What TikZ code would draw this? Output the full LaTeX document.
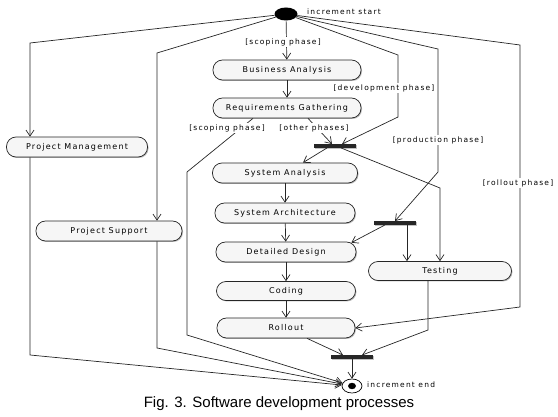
\documentclass[tikz,border=0pt]{standalone}
\usepackage{fontspec}
\setmainfont{DejaVu Sans}
\newfontfamily\capfont{Liberation Sans}
\usetikzlibrary{arrows.meta,shadows,calc,shapes.geometric}
\tikzset{
  act/.style={draw=black!85, line width=0.7pt, fill=gray!7, rounded corners=9.5pt,
    minimum height=20pt, inner sep=1pt, font=\fontsize{8}{9}\selectfont\addfontfeature{LetterSpace=15},
    drop shadow={shadow xshift=1pt, shadow yshift=-1pt, fill=black!45, opacity=0.6}},
  bar/.style={fill=black!85, draw=none, minimum width=42pt, minimum height=3.5pt, inner sep=0pt,
    drop shadow={shadow xshift=0.8pt, shadow yshift=-0.8pt, fill=black!40, opacity=0.6}},
  lbl/.style={font=\fontsize{7.5}{8}\selectfont\addfontfeature{LetterSpace=16}, inner sep=1pt},
  wl/.style={lbl, fill=white},
  flow/.style={draw=black!85, line width=0.7pt, -{Straight Barb[length=6pt,width=8pt,line width=0.7pt]}},
}
\begin{document}
\begin{tikzpicture}[x=1pt,y=-1pt]
\useasboundingbox (0,0) rectangle (558,417);
% nodes
\node[ellipse, fill=black, minimum width=23pt, minimum height=13pt, inner sep=0pt] (start) at (286,14) {};
\node[lbl, anchor=west] (startl) at (306,12) {increment start};
\node[act, minimum width=148pt] (BA) at (287,70) {Business Analysis};
\node[act, minimum width=148pt] (RG) at (287,108) {Requirements Gathering};
\node[act, minimum width=145pt] (SA) at (285,173) {System Analysis};
\node[act, minimum width=140pt] (SAr) at (285,213) {System Architecture};
\node[act, minimum width=140pt] (DD) at (286,252) {Detailed Design};
\node[act, minimum width=139pt, minimum height=19pt] (CO) at (286,291) {Coding};
\node[act, minimum width=138pt] (RO) at (286,328) {Rollout};
\node[act, minimum width=143pt, minimum height=19pt] (TE) at (440,271) {Testing};
\node[act, minimum width=141pt] (PM) at (77,147) {Project Management};
\node[act, minimum width=146pt] (PS) at (109,231) {Project Support};
\node[bar] (F1) at (335,146) {};
\node[bar] (F2) at (395,223) {};
\node[bar] (F3) at (352,357) {};
\node[ellipse, draw=black, line width=0.7pt, fill=white, minimum width=20pt, minimum height=14pt, inner sep=0pt] (end) at (352,386) {};
\fill[black] (end.center) ellipse (4pt and 3.2pt);
\node[lbl, anchor=west] (endl) at (366,385) {increment end};
% coordinates
\coordinate (cPM) at (30,43);
\coordinate (cPS) at (157,53);
\coordinate (cDev1) at (398,55);
\coordinate (cDev2) at (398,117);
\coordinate (cPro1) at (438,49);
\coordinate (cPro2) at (438,172);
\coordinate (cRol1) at (520,45);
\coordinate (cRol2) at (520,307);
\coordinate (cSc1) at (187,172);
\coordinate (cSc2) at (187,335);
\coordinate (cT1) at (440,188);
\coordinate (cT2) at (407,224);
\coordinate (cT3) at (428,330);
\coordinate (cPM2) at (30,355);
\coordinate (cPS2) at (157,348);
% edges
\draw[flow] (start) -- (cPM) -- (PM.north -| cPM);
\draw[flow] (start) -- (cPS) -- (PS.north -| cPS);
\draw[flow] (start) -- (BA);
\draw[flow] (BA) -- (RG);
\draw[flow] ($(RG.south)+(-34,0)$) -- (cSc1) -- (cSc2) -- (end);
\draw[flow] ($(RG.south)+(21,0)$) -- ($(F1.north)+(-3,0)$);
\draw[flow] (start) -- (cDev1) -- (cDev2) -- ($(F1.north)+(7,0)$);
\draw[flow] (start) -- (cPro1) -- (cPro2) -- (F2.north);
\draw[flow] (start) -- (cRol1) -- (cRol2) -- (RO.east);
\draw[flow] ($(F1.south)+(-8,0)$) -- ($(SA.north)+(18,0)$);
\draw[flow] ($(F1.south)+(6,0)$) -- (cT1) -- (TE.north -| cT1);
\draw[flow] (cT2) -- (TE.north -| cT2);
\draw[flow] ($(F2.south)+(-10,0)$) -- ($(DD.north east)+(-5,1)$);
\draw[flow] (SA) -- (SAr);
\draw[flow] (SAr) -- (DD);
\draw[flow] (DD) -- (CO);
\draw[flow] (CO) -- (RO);
\draw[flow] ($(RO.south)+(21,0)$) -- ($(F3.north)+(-9,0)$);
\draw[flow] (TE.south -| cT3) -- (cT3) -- ($(F3.north)+(10,0)$);
\draw[flow] (F3) -- (end);
\draw[flow] (PM.south -| cPM) -- (cPM2) -- (end);
\draw[flow] (PS.south -| cPS) -- (cPS2) -- (end);
% labels
\node[wl] (l1) at (283,42) {[scoping phase]};
\node[wl] (l2) at (384,88) {[development phase]};
\node[wl] (l3) at (227,128) {[scoping phase]};
\node[wl] (l4) at (314,128) {[other phases]};
\node[wl] (l5) at (438,140) {[production phase]};
\node[wl] (l6) at (518,183) {[rollout phase]};
% caption
\node[font=\capfont\fontsize{15}{17}\selectfont] (cap) at (279,404) {Fig. 3. Software development processes};
\end{tikzpicture}
\end{document}
